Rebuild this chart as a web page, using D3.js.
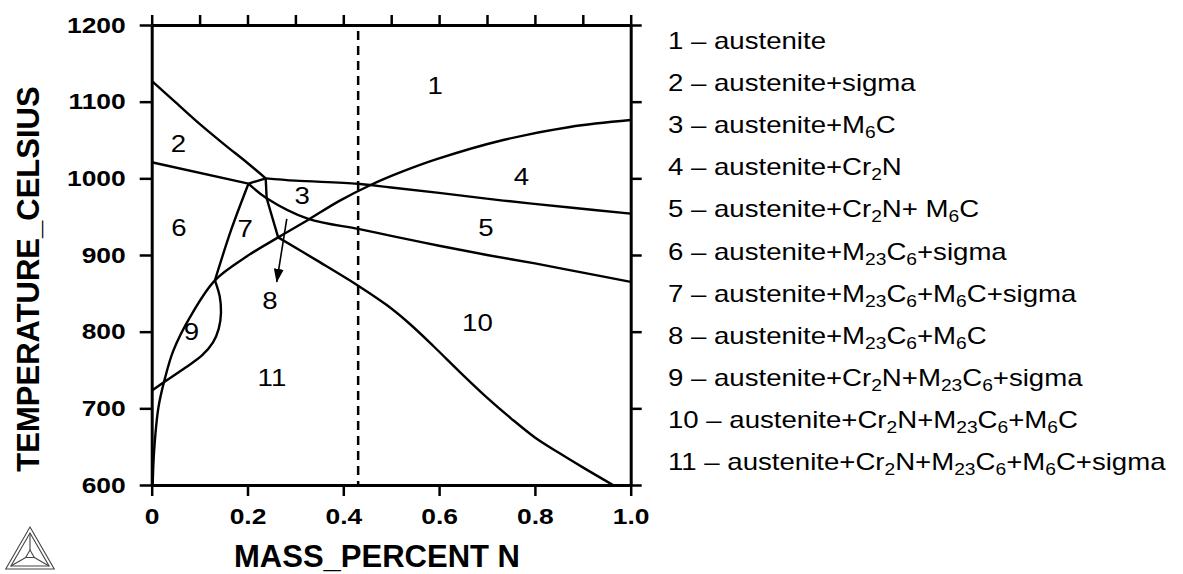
<!DOCTYPE html>
<html>
<head>
<meta charset="utf-8">
<script src="https://d3js.org/d3.v7.min.js"></script>
<style>
  body { margin: 0; background: #fff; font-family: 'Liberation Sans', Arial, sans-serif; }
  .axis path, .axis line { stroke: #000; }
  .axis path { stroke-width: 3; }
  .axis line { stroke-width: 2.5; }
  .axis text { font-family: 'Liberation Sans', Arial, sans-serif; font-size: 22px; font-weight: bold; fill: #000; }
</style>
</head>
<body>
<div id="chart"></div>
<script>
// phase boundaries, points are [mass % N, temperature C]
const sigmaSolvus = [[0, 1127], [0.05, 1099], [0.1, 1071], [0.15, 1045], [0.2, 1020], [0.238, 1000]];
const upperLine = [[0.238, 1000], [0.3, 997], [0.43, 993], [0.5, 988], [0.6, 981], [0.734, 971], [0.873, 962], [1.0, 954]];
const lowerLineLeft = [[0, 1021], [0.202, 993]];
const lowerLineRight = [[0.202, 993], [0.240, 974], [0.327, 947], [0.431, 934], [0.5, 925], [0.6, 912], [0.7, 900], [0.8, 889], [0.9, 877], [1.0, 865]];
const shortTie = [[0.202, 993], [0.238, 1000]];
const vertSeg = [[0.238, 1000], [0.240, 974]];
const slantSeg = [[0.240, 974], [0.264, 923]];
const descCurve = [[0.264, 923], [0.35, 891], [0.431, 860], [0.49, 835], [0.539, 810], [0.59, 780], [0.644, 747],
                   [0.7, 714], [0.75, 687], [0.8, 662], [0.85, 642], [0.9, 623], [0.963, 600]];
const cr2nSolvus = [[0.002, 600], [0.005, 644], [0.014, 701], [0.028, 740], [0.045, 775], [0.08, 819], [0.132, 867], [0.198, 898],
                    [0.264, 923], [0.327, 946], [0.39, 970], [0.456, 991], [0.52, 1008], [0.595, 1025], [0.734, 1050], [0.873, 1067], [1.0, 1076]];
const lensLower = [[0, 723], [0.03, 736], [0.07, 753], [0.105, 769], [0.128, 786], [0.14, 804], [0.1447, 825], [0.142, 846], [0.132, 867]];
const line67 = [[0.132, 867], [0.166, 933], [0.202, 993]];
const boundaries = [sigmaSolvus, upperLine, lowerLineLeft, lowerLineRight, shortTie, vertSeg, slantSeg, descCurve, cr2nSolvus, lensLower, line67];

const alloyN = 0.431;
const arrowFrom = [0.282, 947];
const arrowTo = [0.261, 865];

const regionNames = ["1", "2", "3", "4", "5", "6", "7", "8", "9", "10", "11"];
const regionN = [0.592, 0.056, 0.314, 0.772, 0.698, 0.057, 0.195, 0.247, 0.083, 0.68, 0.251];
const regionT = [1121, 1045, 977, 1002, 935, 936, 934, 840, 800, 812, 740];

const legendPhases = [
  "austenite",
  "austenite+sigma",
  "austenite+M_6C",
  "austenite+Cr_2N",
  "austenite+Cr_2N+ M_6C",
  "austenite+M_{23}C_6+sigma",
  "austenite+M_{23}C_6+M_6C+sigma",
  "austenite+M_{23}C_6+M_6C",
  "austenite+Cr_2N+M_{23}C_6+sigma",
  "austenite+Cr_2N+M_{23}C_6+M_6C",
  "austenite+Cr_2N+M_{23}C_6+M_6C+sigma"
];

const xTicksTop = d3.range(0, 11).map(i => i / 10);
const xTicksBottom = [0, 0.2, 0.4, 0.6, 0.8, 1.0];
const yTicks = [600, 700, 800, 900, 1000, 1100, 1200];

const W = 1183, H = 574;
const margin = {top: 25, left: 151.7};
const width = 479, height = 460;
const SX = 1.2; // the text in the picture is a bit wide

const svg = d3.select("#chart").append("svg")
  .attr("width", W).attr("height", H);

const g = svg.append("g")
  .attr("transform", `translate(${margin.left},${margin.top})`);

const x = d3.scaleLinear().domain([0, 1]).range([0, width]);
const y = d3.scaleLinear().domain([600, 1200]).range([height, 0]);

// axes
g.append("g").attr("class", "axis")
  .call(d3.axisTop(x).tickValues(xTicksTop).tickSize(10).tickSizeOuter(0).tickFormat(""));

g.append("g").attr("class", "axis")
  .attr("transform", `translate(${width},0)`)
  .call(d3.axisRight(y).tickValues(yTicks).tickSize(11).tickSizeOuter(0).tickFormat(""));

const xAxis = g.append("g").attr("class", "axis")
  .attr("transform", `translate(0,${height})`)
  .call(d3.axisBottom(x).tickValues(xTicksBottom).tickSize(11).tickSizeOuter(0).tickPadding(12)
    .tickFormat(d => d === 0 ? "0" : d.toFixed(1)));
xAxis.selectAll("text").attr("transform", `scale(${SX},1)`);

const yAxis = g.append("g").attr("class", "axis")
  .call(d3.axisLeft(y).tickValues(yTicks).tickSize(12).tickSizeOuter(0).tickPadding(14)
    .tickFormat(d3.format("d")));
yAxis.selectAll("text")
  .attr("x", -26 / SX)
  .attr("transform", `scale(${SX},1)`);

g.selectAll(".axis .domain").attr("fill", "none");

// alloy composition
g.append("line")
  .attr("x1", x(alloyN)).attr("x2", x(alloyN))
  .attr("y1", y(1200) + 6).attr("y2", y(600))
  .attr("stroke", "#000").attr("stroke-width", 2.5)
  .attr("stroke-dasharray", "9,6");

// phase boundaries
const line = d3.line()
  .x(d => x(d[0])).y(d => y(d[1]))
  .curve(d3.curveCatmullRom.alpha(0.5));

g.append("g").selectAll("path")
  .data(boundaries)
  .join("path")
  .attr("d", line)
  .attr("fill", "none")
  .attr("stroke", "#000")
  .attr("stroke-width", 2.4)
  .attr("stroke-linejoin", "round");

// arrow to region 8
svg.append("defs").append("marker")
  .attr("id", "head")
  .attr("markerUnits", "userSpaceOnUse")
  .attr("markerWidth", 14).attr("markerHeight", 10)
  .attr("refX", 13).attr("refY", 5)
  .attr("orient", "auto")
  .append("path")
  .attr("d", "M0,0L14,5L0,10Z")
  .attr("fill", "#000");

g.append("line")
  .attr("x1", x(arrowFrom[0])).attr("y1", y(arrowFrom[1]))
  .attr("x2", x(arrowTo[0])).attr("y2", y(arrowTo[1]))
  .attr("stroke", "#000").attr("stroke-width", 1.6)
  .attr("marker-end", "url(#head)");

// region numbers
g.append("g").selectAll("text")
  .data(regionNames)
  .join("text")
  .attr("transform", (d, i) => `translate(${x(regionN[i])},${y(regionT[i])}) scale(${SX},1)`)
  .attr("text-anchor", "middle")
  .attr("dy", "0.36em")
  .attr("font-size", 23)
  .text(d => d);

// axis titles
svg.append("text")
  .attr("transform", "translate(39,279) rotate(-90)")
  .attr("text-anchor", "middle")
  .attr("font-size", 31).attr("font-weight", "bold")
  .text("TEMPERATURE_CELSIUS");

svg.append("text")
  .attr("x", 377).attr("y", 567)
  .attr("text-anchor", "middle")
  .attr("font-size", 31).attr("font-weight", "bold")
  .text("MASS_PERCENT N");

// legend
function pieces(s) {
  const out = [];
  const re = /_\{?(\d+)\}?/g;
  let last = 0, m;
  while ((m = re.exec(s))) {
    if (m.index > last) out.push({t: s.slice(last, m.index), sub: false});
    out.push({t: m[1], sub: true});
    last = re.lastIndex;
  }
  if (last < s.length) out.push({t: s.slice(last), sub: false});
  return out;
}

const legend = svg.append("g").selectAll("text")
  .data(legendPhases)
  .join("text")
  .attr("transform", (d, i) => `translate(668,${49 + 42.1 * i}) scale(${SX},1)`)
  .attr("font-size", 23);

legend.each(function (d, i) {
  const t = d3.select(this);
  t.append("tspan").text(`${regionNames[i]} \u2013 `);
  let shifted = false;
  pieces(d).forEach(p => {
    const ts = t.append("tspan").text(p.t);
    if (p.sub && !shifted) { ts.attr("font-size", 16).attr("dy", 5); shifted = true; }
    else if (p.sub) ts.attr("font-size", 16);
    else if (shifted) { ts.attr("dy", -5); shifted = false; }
  });
});

// Thermo-Calc mark in the corner
const logo = svg.append("g").attr("transform", "translate(30,555)")
  .attr("fill", "none").attr("stroke", "#444").attr("stroke-width", 1.1);
const tri = r => [0, 1, 2].map(k => {
  const a = -Math.PI / 2 + k * 2 * Math.PI / 3;
  return [r * Math.cos(a), r * Math.sin(a)];
});
logo.append("path").attr("d", d3.line()(tri(28)) + "Z");
logo.append("path").attr("d", d3.line()(tri(22)) + "Z");
logo.append("path").attr("d", d3.line()(tri(5)) + "Z");
tri(5).forEach((p, k) => {
  const q = tri(22)[k];
  logo.append("line").attr("x1", p[0]).attr("y1", p[1]).attr("x2", q[0]).attr("y2", q[1]);
});
</script>
</body>
</html>
